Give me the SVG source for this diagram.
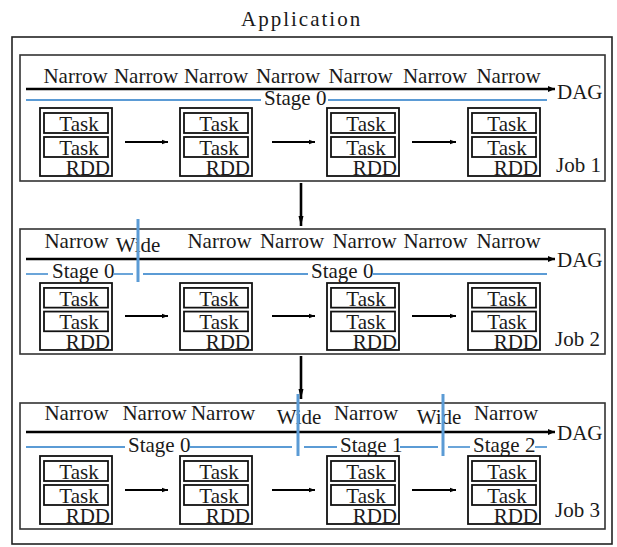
<svg xmlns="http://www.w3.org/2000/svg" width="617" height="547" viewBox="0 0 617 547">
<defs>
<style>
text{font-family:"Liberation Serif","Times New Roman",serif;fill:#1a1a1a;font-size:21px}
.title{letter-spacing:2px}
.lab{text-anchor:middle}
.nar{font-size:22px}
.frame{fill:#fff;stroke:#222;stroke-width:1.6}
.job{fill:none;stroke:#333;stroke-width:1.6}
.rdd{fill:#fff;stroke:#111;stroke-width:1.8}
.task{fill:#fff;stroke:#111;stroke-width:1.8}
.dag{stroke:#000;stroke-width:2.6;fill:none}
.blue{stroke:#5b9bd5;stroke-width:1.8;fill:none}
.cut{stroke:#5b9bd5;stroke-width:3;fill:none}
.arr{stroke:#000;stroke-width:2;fill:none}
.varr{stroke:#000;stroke-width:2.6;fill:none}
</style>
<marker id="ah" markerUnits="userSpaceOnUse" markerWidth="8" markerHeight="8" viewBox="0 0 8 8" refX="7" refY="4" orient="auto">
<path d="M0,1 L7,4 L0,7 Z" fill="#000"/>
</marker>
<marker id="ahs" markerUnits="userSpaceOnUse" markerWidth="7" markerHeight="6" viewBox="0 0 7 6" refX="6" refY="3" orient="auto">
<path d="M0,0.8 L6,3 L0,5.2 Z" fill="#000"/>
</marker>
<marker id="ahv" markerUnits="userSpaceOnUse" markerWidth="8" markerHeight="12" viewBox="0 0 8 12" refX="10" refY="4" orient="auto">
<path d="M0,1.5 L10,4 L0,6.5 Z" fill="#000"/>
</marker>
<g id="rddnode">
<rect class="rdd" x="0" y="0" width="72" height="68"/>
<rect class="task" x="4" y="5" width="64" height="20"/>
<rect class="task" x="4" y="29" width="64" height="20"/>
<text class="lab" x="39" y="23">Task</text>
<text class="lab" x="39" y="47">Task</text>
<text x="70" y="67" text-anchor="end">RDD</text>
</g>
</defs>

<g id="application">
<rect class="frame" x="12" y="37" width="600" height="507"/>
<text class="title" x="241" y="26">Application</text>
</g>

<!-- Job 1 -->
<g id="job1">
<rect class="job" x="20" y="55" width="585" height="126"/>
<text x="556" y="172">Job 1</text>
<text x="557" y="99">DAG</text>
<g class="lab nar">
<text x="75.5" y="83">Narrow</text>
<text x="146" y="83">Narrow</text>
<text x="216" y="83">Narrow</text>
<text x="288" y="83">Narrow</text>
<text x="360.5" y="83">Narrow</text>
<text x="435" y="83">Narrow</text>
<text x="508.5" y="83">Narrow</text>
</g>
<text x="264" y="105">Stage 0</text>
</g>
<g id="job1-rdd1" transform="translate(40,108)"><use href="#rddnode"/></g>
<g id="job1-rdd2" transform="translate(180,108)"><use href="#rddnode"/></g>
<g id="job1-rdd3" transform="translate(327,108)"><use href="#rddnode"/></g>
<g id="job1-rdd4" transform="translate(468,108)"><use href="#rddnode"/></g>

<!-- Job 2 -->
<g id="job2">
<rect class="job" x="20" y="229" width="585" height="125"/>
<text x="555" y="346">Job 2</text>
<text x="557" y="267">DAG</text>
<g class="lab nar">
<text x="76.5" y="248">Narrow</text>
<text x="219.5" y="248">Narrow</text>
<text x="292" y="248">Narrow</text>
<text x="364.5" y="248">Narrow</text>
<text x="435.5" y="248">Narrow</text>
<text x="508.5" y="248">Narrow</text>
</g>
<text class="lab" x="138" y="252">Wide</text>
<text x="52" y="278">Stage 0</text>
<text x="311" y="278">Stage 0</text>
</g>
<g id="job2-rdd1" transform="translate(40,283) scale(1,0.985)"><use href="#rddnode"/></g>
<g id="job2-rdd2" transform="translate(180,283) scale(1,0.985)"><use href="#rddnode"/></g>
<g id="job2-rdd3" transform="translate(327,283) scale(1,0.985)"><use href="#rddnode"/></g>
<g id="job2-rdd4" transform="translate(468,283) scale(1,0.985)"><use href="#rddnode"/></g>

<!-- Job 3 -->
<g id="job3">
<rect class="job" x="20" y="403" width="585" height="126"/>
<text x="555" y="517">Job 3</text>
<text x="557" y="440">DAG</text>
<g class="lab nar">
<text x="76.5" y="420">Narrow</text>
<text x="154.5" y="420">Narrow</text>
<text x="223" y="420">Narrow</text>
<text x="366" y="420">Narrow</text>
<text x="506" y="420">Narrow</text>
</g>
<text class="lab" x="299" y="424">Wide</text>
<text class="lab" x="439" y="424">Wide</text>
<text x="128" y="452">Stage 0</text>
<text x="340" y="452">Stage 1</text>
<text x="473" y="452">Stage 2</text>
</g>
<g id="job3-rdd1" transform="translate(40,456)"><use href="#rddnode"/></g>
<g id="job3-rdd2" transform="translate(180,456)"><use href="#rddnode"/></g>
<g id="job3-rdd3" transform="translate(327,456)"><use href="#rddnode"/></g>
<g id="job3-rdd4" transform="translate(468,456)"><use href="#rddnode"/></g>

<g id="connectors">
<line class="dag" x1="26" y1="89" x2="555" y2="89" marker-end="url(#ah)"/>
<line class="dag" x1="26" y1="259" x2="555" y2="259" marker-end="url(#ah)"/>
<line class="dag" x1="26" y1="432" x2="555" y2="432" marker-end="url(#ah)"/>
<line class="blue" x1="26" y1="100" x2="261" y2="100"/>
<line class="blue" x1="328" y1="100" x2="547" y2="100"/>
<line class="blue" x1="26" y1="274" x2="48" y2="274"/>
<line class="blue" x1="113" y1="274" x2="133" y2="274"/>
<line class="blue" x1="143" y1="274" x2="308" y2="274"/>
<line class="blue" x1="373" y1="274" x2="547" y2="274"/>
<line class="cut" x1="138" y1="219" x2="138" y2="282"/>
<line class="blue" x1="26" y1="447" x2="125" y2="447"/>
<line class="blue" x1="190" y1="447" x2="292" y2="447"/>
<line class="blue" x1="304" y1="447" x2="337" y2="447"/>
<line class="blue" x1="400" y1="447" x2="438" y2="447"/>
<line class="blue" x1="448" y1="447" x2="470" y2="447"/>
<line class="blue" x1="535" y1="447" x2="547" y2="447"/>
<line class="cut" x1="298" y1="394" x2="298" y2="456"/>
<line class="cut" x1="443" y1="394" x2="443" y2="456"/>
<line class="arr" x1="125" y1="142" x2="168" y2="142" marker-end="url(#ahs)"/>
<line class="arr" x1="272" y1="142" x2="315" y2="142" marker-end="url(#ahs)"/>
<line class="arr" x1="412" y1="142" x2="456" y2="142" marker-end="url(#ahs)"/>
<line class="arr" x1="125" y1="316" x2="168" y2="316" marker-end="url(#ahs)"/>
<line class="arr" x1="272" y1="316" x2="315" y2="316" marker-end="url(#ahs)"/>
<line class="arr" x1="412" y1="316" x2="456" y2="316" marker-end="url(#ahs)"/>
<line class="arr" x1="125" y1="490" x2="168" y2="490" marker-end="url(#ahs)"/>
<line class="arr" x1="272" y1="490" x2="315" y2="490" marker-end="url(#ahs)"/>
<line class="arr" x1="412" y1="490" x2="456" y2="490" marker-end="url(#ahs)"/>
<line class="varr" x1="301" y1="183" x2="301" y2="226" marker-end="url(#ahv)"/>
<line class="varr" x1="301" y1="356" x2="301" y2="399" marker-end="url(#ahv)"/>
</g>
</svg>
